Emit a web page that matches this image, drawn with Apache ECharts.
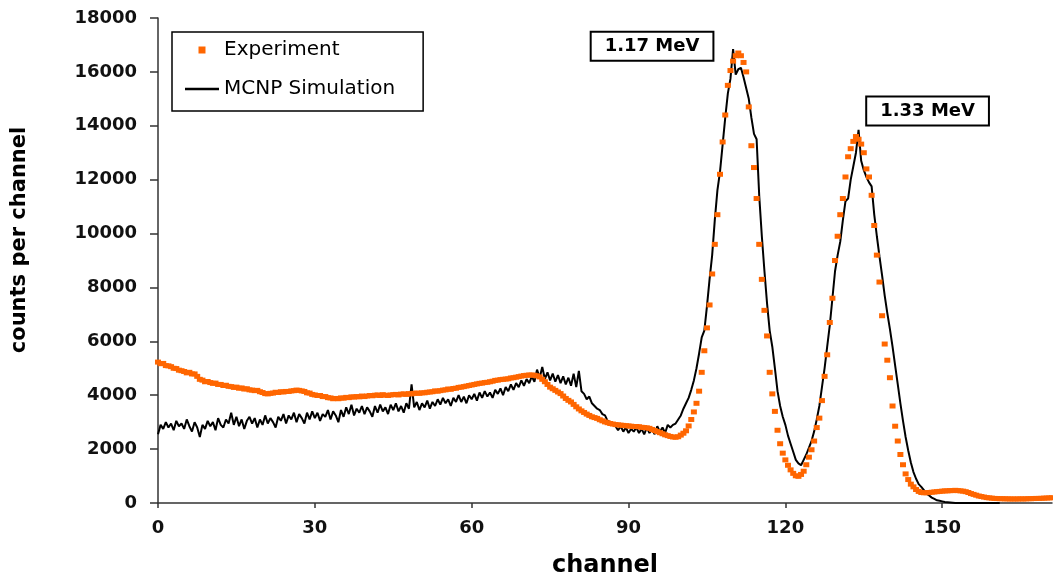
<!DOCTYPE html>
<html>
<head>
<meta charset="utf-8">
<script src="https://cdn.jsdelivr.net/npm/echarts@6/dist/echarts.min.js"></script>
<style>
  html, body { margin: 0; padding: 0; background: #fff; }
  #chart { width: 1053px; height: 583px; }
</style>
</head>
<body>
<div id="chart"></div>
<script>
// Channel grid step of both spectra (channels)
const CHANNEL_STEP = 0.5;
const xTickStep = 30;
const yTickStep = 2000;

const seriesNames = ['Experiment', 'MCNP Simulation'];

// Experiment counts, channel 0 .. 171 in steps of 0.5
const experimentCounts = [
  5230,5170,5180,5100,5090,5060,5000,4990,4930,4910, 4880,4830,4850,4790,4790,4700,4590,4560,4500,4510,
  4470,4440,4450,4400,4400,4360,4370,4330,4320,4290, 4300,4260,4270,4230,4240,4200,4190,4170,4180,4130,
  4100,4060,4050,4070,4080,4110,4100,4130,4120,4140, 4140,4160,4170,4190,4180,4160,4140,4090,4080,4030,
  4010,3990,3990,3950,3950,3910,3900,3870,3880,3870, 3900,3890,3920,3910,3940,3930,3950,3940,3970,3950,
  3970,3990,3980,4000,4010,3990,4020,4000,3990,4010, 4020,4030,4010,4040,4050,4030,4060,4050,4070,4080,
  4070,4090,4090,4110,4120,4130,4160,4150,4170,4190, 4200,4230,4220,4250,4260,4290,4300,4320,4340,4360,
  4380,4400,4420,4440,4450,4470,4480,4500,4520,4550, 4560,4580,4590,4600,4610,4640,4650,4670,4690,4710,
  4730,4740,4750,4750,4740,4720,4680,4590,4500,4400, 4300,4240,4180,4120,4060,3970,3880,3810,3750,3660,
  3570,3490,3420,3360,3300,3250,3200,3170,3140,3090, 3050,3010,2980,2950,2930,2910,2900,2890,2880,2870,
  2860,2850,2840,2840,2830,2810,2800,2790,2770,2730, 2690,2650,2610,2570,2530,2500,2470,2450,2440,2460,
  2520,2590,2680,2860,3100,3380,3700,4150,4850,5650, 6500,7350,8500,9600,10700,12200,13400,14400,15500,16050,
  16400,16600,16700,16600,16350,16000,14700,13260,12450,11300, 9600,8300,7150,6200,4850,4050,3400,2700,2200,1850,
  1600,1400,1230,1100,1010,990,1060,1180,1420,1700, 1976,2300,2800,3150,3800,4700,5500,6700,7600,9000,
  9900,10700,11300,12100,12850,13150,13420,13600,13500,13320, 13000,12400,12100,11420,10300,9200,8200,6950,5900,5300,
  4650,3600,2850,2300,1800,1420,1080,870,700,600, 500,430,390,380,380,390,400,410,420,430,
  440,450,450,460,460,470,460,450,440,420, 390,350,320,290,260,240,220,200,190,180,
  170,165,160,160,155,155,150,150,150,150, 155,150,155,160,160,165,170,170,175,180,
  185,190,195
];

// MCNP simulation counts, channel 0 .. 161 in steps of 0.5
const simulationCounts = [
  2550,2900,2750,3000,2800,2950,2700,3050,2850,2950, 2750,3100,2850,2650,3000,2800,2450,2900,2750,3050,
  2850,3000,2700,3150,2900,2800,3100,2950,3350,2900, 3200,2850,3100,2750,3050,3200,2950,3150,2800,3100,
  2900,3250,2950,3150,3000,2800,3200,3050,3300,2950, 3250,3100,3350,3000,3300,3150,2950,3350,3100,3400,
  3150,3350,3050,3300,3200,3450,3100,3400,3250,3000, 3450,3200,3550,3300,3650,3250,3500,3350,3600,3300,
  3550,3400,3200,3600,3350,3650,3400,3550,3300,3650, 3450,3700,3400,3600,3350,3700,3500,4400,3550,3750,
  3450,3700,3550,3800,3500,3750,3600,3850,3650,3900, 3700,3850,3600,3900,3750,4000,3750,3950,3700,4000,
  3850,4050,3800,4100,3900,4150,3950,4100,3900,4200, 4050,4250,4000,4300,4150,4400,4200,4450,4300,4550,
  4350,4600,4450,4700,4500,4950,4650,5050,4600,4850, 4550,4800,4500,4750,4450,4700,4400,4650,4350,4800,
  4300,4900,4150,4050,3850,3950,3700,3600,3500,3450, 3300,3250,3050,3000,2900,2850,2700,2850,2650,2800,
  2600,2750,2650,2800,2600,2750,2550,2800,2600,2750, 2550,2850,2650,2800,2600,2900,2800,2900,2950,3100,
  3250,3500,3700,3900,4200,4550,5000,5550,6150,6400, 7300,8300,9200,10500,11600,12300,13300,14300,15200,15750,
  16850,15900,16100,16150,15800,15400,15000,14300,13700,13500, 11400,9900,8600,7400,6400,5800,5000,4150,3600,3200,
  2900,2500,2200,1900,1600,1470,1400,1600,1800,2050, 2300,2650,3100,3600,4300,5000,5800,6600,7600,8600,
  9200,9700,10500,11200,11300,12000,12500,13000,13850,12700, 12350,12100,11900,11750,10700,9900,9150,8450,7700,7050,
  6450,5800,5100,4400,3700,3050,2450,1950,1500,1150, 900,700,600,480,350,280,200,150,100,80,
  60,40,30,20,10,0,0,0,0,0, 0,0,0,0,0,0,0,0,0,0,
  0,0,0
];

// Peak annotations (text and anchor in data coordinates)
const peakLabels = [
  { text: '1.17 MeV', channel: 94.5, counts: 16950 },
  { text: '1.33 MeV', channel: 147.2, counts: 14550 }
];

const FONT = '"DejaVu Sans", "Liberation Sans", Arial, sans-serif';

const expData = experimentCounts.map((v, i) => [i * CHANNEL_STEP, v]);
const simData = simulationCounts.map((v, i) => [i * CHANNEL_STEP, v]);

const chart = echarts.init(document.getElementById('chart'), null, { renderer: 'canvas' });

chart.setOption({
  animation: false,
  backgroundColor: '#ffffff',
  grid: { left: 158, right: 1, top: 18, bottom: 76, containLabel: false },
  legend: {
    orient: 'vertical',
    left: 172,
    top: 32,
    padding: [8, 28, 12, 13],
    itemGap: 19,
    itemWidth: 34,
    itemHeight: 7,
    borderColor: '#000',
    borderWidth: 1.5,
    backgroundColor: '#fff',
    textStyle: { fontFamily: FONT, fontSize: 20, color: '#000' },
    data: [
      { name: seriesNames[0], icon: 'path://M0,0H10V10H0Z' },
      { name: seriesNames[1], icon: 'path://M0,0H34V2.5H0Z' }
    ]
  },
  xAxis: {
    type: 'value',
    min: 0,
    max: 171,
    interval: xTickStep,
    name: 'channel',
    nameLocation: 'middle',
    nameGap: 51,
    nameTextStyle: { fontFamily: FONT, fontSize: 24, fontWeight: 'bold', color: '#000' },
    axisLine: { show: true, onZero: false, lineStyle: { color: '#333', width: 1.5 } },
    axisTick: { show: true, inside: false, length: 5, lineStyle: { color: '#333', width: 1.5 } },
    axisLabel: {
      showMaxLabel: false,
      margin: 16,
      fontFamily: FONT, fontSize: 18, fontWeight: 'bold', color: '#111'
    },
    splitLine: { show: false }
  },
  yAxis: {
    type: 'value',
    min: 0,
    max: 18000,
    interval: yTickStep,
    axisLine: { show: true, lineStyle: { color: '#333', width: 1.5 } },
    axisTick: { show: true, inside: false, length: 8, lineStyle: { color: '#333', width: 1.5 } },
    axisLabel: {
      margin: 21,
      formatter: v => String(v),
      fontFamily: FONT, fontSize: 18, fontWeight: 'bold', color: '#111'
    },
    splitLine: { show: false }
  },
  graphic: [
    {
      type: 'text',
      x: 20,
      y: 240,
      rotation: Math.PI / 2,
      style: {
        text: 'counts per channel',
        font: 'bold 21px ' + FONT,
        fill: '#000',
        align: 'center',
        verticalAlign: 'middle'
      }
    }
  ],
  series: [
    {
      name: seriesNames[1],
      type: 'line',
      data: simData,
      symbol: 'none',
      showSymbol: false,
      z: 2,
      lineStyle: { color: '#000', width: 2 },
      itemStyle: { color: '#000' }
    },
    {
      name: seriesNames[0],
      type: 'scatter',
      data: expData,
      symbol: 'rect',
      symbolSize: [6, 5],
      z: 3,
      itemStyle: { color: '#ff6600', opacity: 1 },
      markPoint: {
        symbol: 'rect',
        symbolSize: 1,
        itemStyle: { color: 'rgba(0,0,0,0)' },
        label: {
          show: true,
          position: 'inside',
          formatter: '{b}',
          backgroundColor: '#fff',
          borderColor: '#000',
          borderWidth: 2,
          padding: [5, 13, 4, 13],
          fontFamily: FONT,
          fontSize: 18,
          fontWeight: 'bold',
          color: '#000'
        },
        data: peakLabels.map(p => ({ name: p.text, coord: [p.channel, p.counts] }))
      }
    }
  ]
});
</script>
</body>
</html>
